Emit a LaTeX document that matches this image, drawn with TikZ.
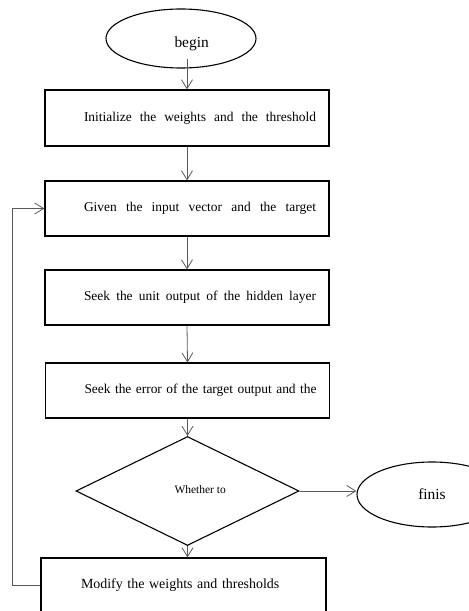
\documentclass[tikz,border=0pt]{standalone}
\usepackage{fontspec}
\setmainfont{Liberation Serif}
\usetikzlibrary{shapes.geometric,arrows.meta}
\tikzset{
  stepbox/.style={draw,line width=1.1bp,minimum height=55bp,inner xsep=13bp,
    text width=258bp,align=right,font=\fontsize{13.5}{16}\selectfont},
  lastbox/.style={draw,line width=1.1bp,minimum height=55bp,inner xsep=40bp,
    text width=205bp,align=left,font=\fontsize{14}{16}\selectfont},
  endbox/.style={draw,ellipse,line width=1.1bp,minimum width=150bp,inner sep=0pt,
    font=\fontsize{15.5}{17}\selectfont},
  flow/.style={draw=gray!70!black,line width=0.8bp,-{Straight Barb[length=9bp,width=11bp]}},
}
\newcommand{\spread}[1]{{\spaceskip=.25em plus 1fil\makebox[232bp][s]{#1}}}
\begin{document}
\begin{tikzpicture}[x=1bp,y=-1bp]
    \useasboundingbox (0,0) rectangle (469,611);
    \clip (0,0) rectangle (469,611);
    % Start
    \node[endbox,minimum height=59bp] (begin) at (181,38.5) {};
    \node[anchor=base west,font=\fontsize{15.5}{17}\selectfont] (begintxt) at (171,48) {begin};
    \coordinate (b0) at (187,59);
    % Steps
    \node[stepbox,minimum height=56bp] (init) at (187,118) {\spread{Initialize the weights and the threshold}};
    \node[stepbox] (given) at (187,208.5) {\spread{Given the input vector and the target}};
    \node[stepbox] (hidden) at (187,297.5) {\spread{Seek the unit output of the hidden layer}};
    \node[stepbox] (error) at (187.5,390.5) {\spread{Seek the error of the target output and the}};
    % Decision
    \node[draw,diamond,line width=1.1bp,minimum width=223bp,minimum height=109bp,
          aspect=2.05,inner sep=0pt] (dec) at (187.5,491) {};
    \node[anchor=base west,font=\fontsize{11.5}{13}\selectfont] (dectxt) at (171,493) {Whether to};
    % End
    \node[endbox,minimum height=65bp] (finis) at (432,494.5) {finis};
    % Update
    \node[lastbox] (modify) at (183.5,585.5) {Modify the weights and thresholds};
    % Arrows
    \draw[flow] (b0) -- (init.north);
    \draw[flow] (init.south) -- (given.north);
    \draw[flow] (given.south) -- (hidden.north);
    \draw[flow] (hidden.south) -- (error.north);
    \draw[flow] (error.south) -- (dec.north);
    \draw[flow] (dec.east) -- (dec.east -| finis.west);
    \draw[flow] (dec.south) -- (dec.south |- modify.north);
    % Loop back
    \draw[flow] (modify.west) -- ++(-28,0) |- (given.west);
\end{tikzpicture}
\end{document}
